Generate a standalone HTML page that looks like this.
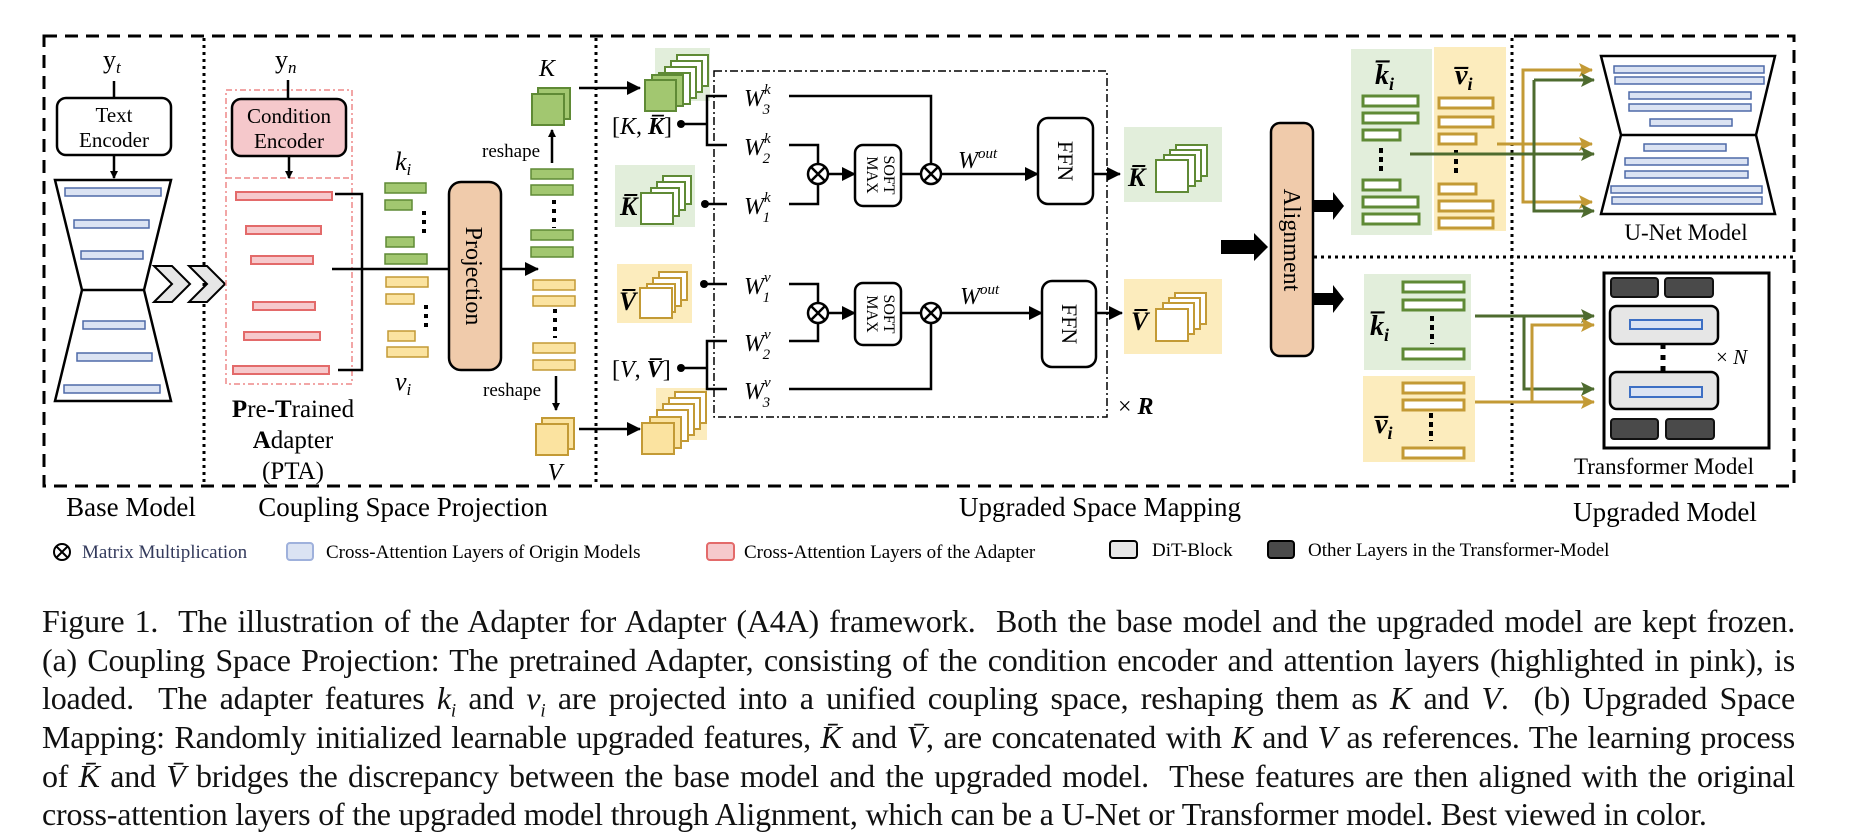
<!DOCTYPE html>
<html><head><meta charset="utf-8"><style>
html,body{margin:0;padding:0;background:#fff;}
body{width:1858px;height:836px;position:relative;overflow:hidden;font-family:"Liberation Serif",serif;}
.cap{position:absolute;left:42px;width:1753px;font-size:32px;letter-spacing:-0.2px;line-height:38px;color:#111;white-space:nowrap;text-align:justify;text-align-last:justify;}
.cap.l{text-align-last:left;}
svg text{font-family:"Liberation Serif",serif;fill:#000;}
</style></head><body>
<svg width="1858" height="836" style="position:absolute;left:0;top:0">
<defs>
<marker id="ab" markerWidth="8" markerHeight="8" refX="7" refY="4" orient="auto" markerUnits="userSpaceOnUse"><path d="M0,0 L8,4 L0,8z" fill="#000"/></marker>
<marker id="ab2" markerWidth="14" markerHeight="14" refX="13" refY="7" orient="auto" markerUnits="userSpaceOnUse"><path d="M0,0 L14,7 L0,14z" fill="#000"/></marker>
<marker id="ag" markerWidth="14" markerHeight="14" refX="13" refY="7" orient="auto" markerUnits="userSpaceOnUse"><path d="M0,0 L14,7 L0,14 L3,7z" fill="#c39a35"/></marker>
<marker id="agr" markerWidth="14" markerHeight="14" refX="13" refY="7" orient="auto" markerUnits="userSpaceOnUse"><path d="M0,0 L14,7 L0,14 L3,7z" fill="#4e6b2f"/></marker>
</defs>
<rect x="44" y="36" width="1750" height="450" fill="none" stroke="#000" stroke-width="3" stroke-dasharray="13,8"/>
<line x1="204" y1="38" x2="204" y2="486" stroke="#000" stroke-width="3" stroke-dasharray="3,4"/>
<line x1="596" y1="38" x2="596" y2="486" stroke="#000" stroke-width="3" stroke-dasharray="3,4"/>
<line x1="1512" y1="38" x2="1512" y2="486" stroke="#000" stroke-width="3" stroke-dasharray="3,4"/>
<line x1="1314" y1="257" x2="1794" y2="257" stroke="#000" stroke-width="3" stroke-dasharray="3,4"/>

<text x="103" y="68" font-size="26">y<tspan font-style="italic" font-size="17" dy="5">t</tspan></text>
<line x1="114" y1="81" x2="114" y2="98" stroke="#000" stroke-width="2.5"/>
<rect x="57" y="98" width="114" height="57" rx="9" fill="#fff" stroke="#000" stroke-width="2.5"/>
<text x="114" y="122" font-size="21" text-anchor="middle">Text</text>
<text x="114" y="147" font-size="21" text-anchor="middle">Encoder</text>
<line x1="114" y1="155" x2="114" y2="178" stroke="#000" stroke-width="2.5" marker-end="url(#ab)"/>
<path d="M55,180 L171,180 L144,290 L82,290 Z M82,290 L144,290 L171,401 L55,401 Z" fill="#fff" stroke="#000" stroke-width="2.5"/>
<g fill="#dbe3f3" stroke="#4e6aa8" stroke-width="1.5">
<rect x="65" y="188" width="96" height="8"/><rect x="74" y="220" width="75" height="8"/><rect x="81" y="251" width="62" height="8"/>
<rect x="83" y="321" width="62" height="8"/><rect x="77" y="353" width="75" height="8"/><rect x="64" y="385" width="96" height="8"/>
</g>
<g fill="#e6e6e6" stroke="#000" stroke-width="2">
<path d="M154,266 L172,266 L190,284 L172,302 L154,302 L172,284 Z"/>
<path d="M189,266 L207,266 L225,284 L207,302 L189,302 L207,284 Z"/>
</g>

<text x="275" y="68" font-size="26">y<tspan font-style="italic" font-size="17" dy="5">n</tspan></text>
<rect x="226" y="90" width="126" height="294" fill="none" stroke="#e88" stroke-width="1.5" stroke-dasharray="6,3,2,3"/>
<line x1="226" y1="178" x2="352" y2="178" stroke="#e88" stroke-width="1.5" stroke-dasharray="6,3"/>
<line x1="288" y1="80" x2="288" y2="99" stroke="#000" stroke-width="2.5"/>
<rect x="232" y="99" width="114" height="57" rx="9" fill="#f5c8cb" stroke="#000" stroke-width="2.5"/>
<text x="289" y="123" font-size="21" text-anchor="middle">Condition</text>
<text x="289" y="148" font-size="21" text-anchor="middle">Encoder</text>
<line x1="289" y1="156" x2="289" y2="178" stroke="#000" stroke-width="2.5" marker-end="url(#ab)"/>
<g fill="#f6c9cc" stroke="#e36a6a" stroke-width="2">
<rect x="236" y="192" width="96" height="8"/><rect x="246" y="226" width="75" height="8"/><rect x="251" y="256" width="62" height="8"/>
<rect x="253" y="302" width="62" height="8"/><rect x="244" y="332" width="76" height="8"/><rect x="233" y="366" width="96" height="8"/>
</g>
<path d="M335,194 L362,194 L362,370 L338,370" fill="none" stroke="#000" stroke-width="2.5"/>
<line x1="332" y1="269" x2="449" y2="269" stroke="#000" stroke-width="2.5"/>
<text x="395" y="170" font-size="26" font-style="italic">k<tspan font-size="17" dy="5">i</tspan></text>
<text x="395" y="390" font-size="26" font-style="italic">v<tspan font-size="17" dy="5">i</tspan></text>
<g fill="#a2c770" stroke="#5f8a35" stroke-width="1.5">
<rect x="385" y="183" width="41" height="10"/><rect x="385" y="200" width="27" height="10"/><rect x="386" y="237" width="28" height="10"/><rect x="385" y="254" width="42" height="10"/>
<rect x="531" y="169" width="42" height="10"/><rect x="531" y="185" width="42" height="10"/><rect x="531" y="230" width="42" height="10"/><rect x="531" y="247" width="42" height="10"/>
</g>
<g fill="#fbe3a0" stroke="#c39a35" stroke-width="1.5">
<rect x="386" y="277" width="42" height="10"/><rect x="386" y="294" width="28" height="10"/><rect x="388" y="331" width="27" height="10"/><rect x="387" y="347" width="41" height="10"/>
<rect x="533" y="280" width="42" height="10"/><rect x="533" y="296" width="42" height="10"/><rect x="533" y="343" width="42" height="10"/><rect x="533" y="360" width="42" height="10"/>
</g>
<g stroke="#000" stroke-width="4" stroke-dasharray="4,5">
<line x1="424" y1="211" x2="424" y2="235"/><line x1="426" y1="305" x2="426" y2="330"/>
<line x1="554" y1="200" x2="554" y2="228"/><line x1="555" y1="309" x2="555" y2="338"/>
</g>
<rect x="449" y="182" width="52" height="188" rx="12" fill="#f0cbab" stroke="#000" stroke-width="2.5"/>
<text transform="translate(466,276) rotate(90)" font-size="24" text-anchor="middle">Projection</text>
<line x1="501" y1="269" x2="538" y2="269" stroke="#000" stroke-width="2.5" marker-end="url(#ab2)"/>
<line x1="552" y1="163" x2="552" y2="130" stroke="#000" stroke-width="2.5" marker-end="url(#ab)"/>
<text x="482" y="157" font-size="19">reshape</text>
<line x1="556" y1="376" x2="556" y2="410" stroke="#000" stroke-width="2.5" marker-end="url(#ab)"/>
<text x="483" y="396" font-size="19">reshape</text>
<rect x="538" y="88" width="32" height="31" fill="#a2c770" stroke="#5f8a35" stroke-width="2"/>
<rect x="532" y="94" width="32" height="31" fill="#a2c770" stroke="#5f8a35" stroke-width="2"/>
<text x="547" y="76" font-size="24" font-style="italic" text-anchor="middle">K</text>
<rect x="542" y="418" width="32" height="31" fill="#fbe3a0" stroke="#c39a35" stroke-width="2"/>
<rect x="536" y="424" width="32" height="31" fill="#fbe3a0" stroke="#c39a35" stroke-width="2"/>
<text x="555" y="480" font-size="24" font-style="italic" text-anchor="middle">V</text>
<line x1="579" y1="88" x2="640" y2="88" stroke="#000" stroke-width="2.5" marker-end="url(#ab2)"/>
<line x1="579" y1="429" x2="640" y2="429" stroke="#000" stroke-width="2.5" marker-end="url(#ab2)"/>

<rect x="714" y="71" width="393" height="346" fill="none" stroke="#000" stroke-width="1.5" stroke-dasharray="8,3,2,3"/>
<rect x="655" y="48" width="55" height="53" fill="#e2eedb"/>
<g stroke="#5f8a35" stroke-width="2">
<rect x="677" y="55" width="31" height="31" fill="#fff"/><rect x="671" y="61" width="31" height="31" fill="#fff"/><rect x="665" y="67" width="31" height="31" fill="#fff"/><rect x="659" y="73" width="31" height="31" fill="#fff"/>
<rect x="652" y="75" width="31" height="31" fill="#a2c770"/><rect x="645" y="80" width="31" height="31" fill="#a2c770"/>
</g>
<rect x="656" y="388" width="51" height="52" fill="#fcecbd"/>
<g stroke="#c39a35" stroke-width="2">
<rect x="675" y="392" width="31" height="31" fill="#fff"/><rect x="669" y="398" width="31" height="31" fill="#fff"/><rect x="663" y="404" width="31" height="31" fill="#fff"/><rect x="657" y="410" width="31" height="31" fill="#fff"/>
<rect x="650" y="417" width="31" height="31" fill="#fbe3a0"/><rect x="642" y="423" width="32" height="31" fill="#fbe3a0"/>
</g>
<text x="612" y="134" font-size="24"><tspan>[</tspan><tspan font-style="italic">K</tspan>, <tspan font-style="italic" font-weight="bold">K̅</tspan>]</text>
<circle cx="681" cy="124" r="4"/>
<line x1="681" y1="124" x2="707" y2="124" stroke="#000" stroke-width="2.5"/>
<path d="M727,96 L707,96 L707,145 L727,145" fill="none" stroke="#000" stroke-width="2.5"/>
<text x="612" y="377" font-size="24"><tspan>[</tspan><tspan font-style="italic">V</tspan>, <tspan font-style="italic" font-weight="bold">V̅</tspan>]</text>
<circle cx="681" cy="368" r="4"/>
<line x1="681" y1="368" x2="707" y2="368" stroke="#000" stroke-width="2.5"/>
<path d="M727,341 L707,341 L707,389 L727,389" fill="none" stroke="#000" stroke-width="2.5"/>
<rect x="615" y="165" width="80" height="62" fill="#e2eedb"/>
<text x="620" y="215" font-size="26" font-weight="bold" font-style="italic">K̅</text>
<g stroke="#5f8a35" stroke-width="2" fill="#fff">
<rect x="663" y="176" width="28" height="28" /><rect x="657" y="182" width="28" height="28"/><rect x="651" y="188" width="28" height="28"/><rect x="641" y="193" width="32" height="31"/>
</g>
<rect x="617" y="264" width="75" height="59" fill="#fcecbd"/>
<text x="619" y="310" font-size="26" font-weight="bold" font-style="italic">V̅</text>
<g stroke="#c39a35" stroke-width="2" fill="#fff">
<rect x="659" y="272" width="28" height="28"/><rect x="653" y="278" width="28" height="28"/><rect x="647" y="284" width="28" height="28"/><rect x="640" y="288" width="32" height="30"/>
</g>
<circle cx="705" cy="204" r="4"/><line x1="705" y1="204" x2="727" y2="204" stroke="#000" stroke-width="2.5"/>
<circle cx="704" cy="284" r="4"/><line x1="704" y1="284" x2="727" y2="284" stroke="#000" stroke-width="2.5"/>
<g font-size="24" font-style="italic">
<text x="744" y="106">W<tspan font-size="15" dy="-12">k</tspan><tspan font-size="15" dx="-8" dy="20">3</tspan></text>
<text x="744" y="155">W<tspan font-size="15" dy="-12">k</tspan><tspan font-size="15" dx="-8" dy="20">2</tspan></text>
<text x="744" y="214">W<tspan font-size="15" dy="-12">k</tspan><tspan font-size="15" dx="-8" dy="20">1</tspan></text>
<text x="744" y="294">W<tspan font-size="15" dy="-12">v</tspan><tspan font-size="15" dx="-8" dy="20">1</tspan></text>
<text x="744" y="351">W<tspan font-size="15" dy="-12">v</tspan><tspan font-size="15" dx="-8" dy="20">2</tspan></text>
<text x="744" y="399">W<tspan font-size="15" dy="-12">v</tspan><tspan font-size="15" dx="-8" dy="20">3</tspan></text>
<text x="958" y="168">W<tspan font-size="15" dy="-10">out</tspan></text>
<text x="960" y="304">W<tspan font-size="15" dy="-10">out</tspan></text>
</g>
<g fill="none" stroke="#000" stroke-width="2.5">
<path d="M789,96 L931,96 L931,164"/>
<path d="M789,145 L818,145 L818,164 M789,204 L818,204 L818,184"/>
<path d="M789,284 L818,284 L818,303 M789,341 L818,341 L818,323"/>
<path d="M789,389 L931,389 L931,323"/>
<line x1="901" y1="174" x2="921" y2="174"/><line x1="901" y1="313" x2="921" y2="313"/>
</g>
<line x1="828" y1="174" x2="855" y2="174" stroke="#000" stroke-width="2.5" marker-end="url(#ab2)"/>
<line x1="828" y1="313" x2="855" y2="313" stroke="#000" stroke-width="2.5" marker-end="url(#ab2)"/>
<line x1="941" y1="174" x2="1038" y2="174" stroke="#000" stroke-width="2.5" marker-end="url(#ab2)"/>
<line x1="941" y1="313" x2="1042" y2="313" stroke="#000" stroke-width="2.5" marker-end="url(#ab2)"/>
<line x1="1093" y1="174" x2="1120" y2="174" stroke="#000" stroke-width="2.5" marker-end="url(#ab2)"/>
<line x1="1096" y1="313" x2="1122" y2="313" stroke="#000" stroke-width="2.5" marker-end="url(#ab2)"/>
<g fill="#fff" stroke="#000" stroke-width="2.5">
<circle cx="818" cy="174" r="10"/><circle cx="931" cy="174" r="10"/><circle cx="818" cy="313" r="10"/><circle cx="931" cy="313" r="10"/>
</g>
<g stroke="#000" stroke-width="2.5">
<path d="M811,167 L825,181 M825,167 L811,181 M924,167 L938,181 M938,167 L924,181 M811,306 L825,320 M825,306 L811,320 M924,306 L938,320 M938,306 L924,320"/>
</g>
<rect x="855" y="145" width="46" height="61" rx="8" fill="#fff" stroke="#000" stroke-width="2.5"/>
<rect x="855" y="283" width="46" height="62" rx="8" fill="#fff" stroke="#000" stroke-width="2.5"/>
<text transform="translate(884,175) rotate(90)" font-size="16" text-anchor="middle">SOFT</text>
<text transform="translate(867,175) rotate(90)" font-size="16" text-anchor="middle">MAX</text>
<text transform="translate(884,314) rotate(90)" font-size="16" text-anchor="middle">SOFT</text>
<text transform="translate(867,314) rotate(90)" font-size="16" text-anchor="middle">MAX</text>
<rect x="1038" y="118" width="55" height="86" rx="10" fill="#fff" stroke="#000" stroke-width="2.5"/>
<rect x="1042" y="281" width="54" height="86" rx="10" fill="#fff" stroke="#000" stroke-width="2.5"/>
<text transform="translate(1058,161) rotate(90)" font-size="22" text-anchor="middle">FFN</text>
<text transform="translate(1062,324) rotate(90)" font-size="22" text-anchor="middle">FFN</text>
<text x="1118" y="414" font-size="24">× <tspan font-style="italic" font-weight="bold">R</tspan></text>
<rect x="1124" y="127" width="98" height="75" fill="#e2eedb"/>
<text x="1128" y="186" font-size="26" font-weight="bold" font-style="italic">K̅</text>
<g stroke="#5f8a35" stroke-width="2" fill="#fff">
<rect x="1176" y="145" width="31" height="31"/><rect x="1170" y="150" width="31" height="31"/><rect x="1164" y="155" width="31" height="31"/><rect x="1156" y="160" width="32" height="32"/>
</g>
<rect x="1124" y="279" width="98" height="75" fill="#fcecbd"/>
<text x="1131" y="330" font-size="26" font-weight="bold" font-style="italic">V̅</text>
<g stroke="#c39a35" stroke-width="2" fill="#fff">
<rect x="1175" y="293" width="31" height="31"/><rect x="1169" y="298" width="31" height="31"/><rect x="1163" y="303" width="31" height="31"/><rect x="1156" y="309" width="32" height="32"/>
</g>

<path d="M1221,240 L1254,240 L1254,233 L1268,247 L1254,261 L1254,254 L1221,254 Z" fill="#000"/>
<rect x="1271" y="123" width="42" height="233" rx="9" fill="#f0cbab" stroke="#000" stroke-width="2.5"/>
<text transform="translate(1284,240) rotate(90)" font-size="24" text-anchor="middle">Alignment</text>
<path d="M1314,200 L1333,200 L1333,192 L1344,206 L1333,220 L1333,212 L1314,212 Z" fill="#000"/>
<path d="M1314,293 L1333,293 L1333,285 L1344,299 L1333,313 L1333,305 L1314,305 Z" fill="#000"/>
<rect x="1351" y="49" width="81" height="186" fill="#e2eedb"/>
<rect x="1434" y="47" width="72" height="184" fill="#fcecbd"/>
<text x="1375" y="84" font-size="28" font-weight="bold" font-style="italic">k̅<tspan font-size="18" dy="6">i</tspan></text>
<text x="1455" y="84" font-size="28" font-weight="bold" font-style="italic">v̅<tspan font-size="18" dy="6">i</tspan></text>
<rect x="1364" y="274" width="107" height="96" fill="#e2eedb"/>
<rect x="1363" y="376" width="112" height="86" fill="#fcecbd"/>
<g fill="#fff" stroke="#5f8a35" stroke-width="3">
<rect x="1363" y="96" width="55" height="10"/><rect x="1363" y="113" width="55" height="10"/><rect x="1363" y="130" width="37" height="10"/>
<rect x="1363" y="180" width="37" height="10"/><rect x="1363" y="197" width="55" height="10"/><rect x="1363" y="214" width="56" height="10"/>
<rect x="1403" y="282" width="61" height="10"/><rect x="1403" y="300" width="61" height="10"/><rect x="1403" y="349" width="61" height="10"/>
</g>
<g fill="#fff" stroke="#c39a35" stroke-width="3">
<rect x="1439" y="98" width="54" height="10"/><rect x="1439" y="117" width="54" height="10"/><rect x="1439" y="134" width="37" height="10"/>
<rect x="1439" y="184" width="37" height="10"/><rect x="1439" y="201" width="54" height="10"/><rect x="1439" y="218" width="54" height="10"/>
<rect x="1403" y="383" width="61" height="10"/><rect x="1403" y="400" width="61" height="10"/><rect x="1403" y="448" width="61" height="10"/>
</g>
<g stroke="#000" stroke-width="4" stroke-dasharray="5,4">
<line x1="1381" y1="148" x2="1381" y2="174"/><line x1="1456" y1="150" x2="1456" y2="177"/>
<line x1="1432" y1="316" x2="1432" y2="344"/><line x1="1431" y1="413" x2="1431" y2="441"/>
</g>
<text x="1370" y="335" font-size="28" font-weight="bold" font-style="italic">k̅<tspan font-size="18" dy="6">i</tspan></text>
<text x="1375" y="433" font-size="28" font-weight="bold" font-style="italic">v̅<tspan font-size="18" dy="6">i</tspan></text>
<g fill="none" stroke-width="3">
<path d="M1497,144 L1592,144" stroke="#c39a35" marker-end="url(#ag)"/>
<path d="M1592,70 L1523,70 L1523,202 L1592,202" stroke="#c39a35" marker-end="url(#ag)"/>
<path d="M1523,70 L1592,70" stroke="#c39a35" marker-end="url(#ag)"/>
<path d="M1410,154 L1594,154" stroke="#4e6b2f" marker-end="url(#agr)"/>
<path d="M1534,80 L1534,211 L1594,211" stroke="#4e6b2f" marker-end="url(#agr)"/>
<path d="M1534,80 L1594,80" stroke="#4e6b2f" marker-end="url(#agr)"/>
<path d="M1475,316 L1594,316" stroke="#4e6b2f" marker-end="url(#agr)"/>
<path d="M1524,316 L1524,389 L1594,389" stroke="#4e6b2f" marker-end="url(#agr)"/>
<path d="M1475,402 L1594,402" stroke="#c39a35" marker-end="url(#ag)"/>
<path d="M1532,402 L1532,325 L1594,325" stroke="#c39a35" marker-end="url(#ag)"/>
</g>
<path d="M1601,56 L1775,56 L1756,135 L1621,135 Z M1621,135 L1756,135 L1775,214 L1601,214 Z" fill="#fff" stroke="#000" stroke-width="2.5"/>
<g fill="#dbe3f3" stroke="#4e6aa8" stroke-width="1.5">
<rect x="1614" y="66" width="150" height="7"/><rect x="1615" y="77" width="149" height="7"/><rect x="1629" y="92" width="122" height="7"/><rect x="1629" y="104" width="122" height="7"/><rect x="1650" y="119" width="82" height="7"/>
<rect x="1644" y="144" width="82" height="7"/><rect x="1625" y="158" width="123" height="7"/><rect x="1625" y="171" width="123" height="7"/><rect x="1611" y="186" width="151" height="7"/><rect x="1612" y="197" width="150" height="7"/>
</g>
<text x="1686" y="240" font-size="23" text-anchor="middle">U-Net Model</text>
<rect x="1604" y="273" width="165" height="175" fill="#fff" stroke="#000" stroke-width="3"/>
<g fill="#4a4a4a" stroke="#111" stroke-width="2">
<rect x="1611" y="278" width="47" height="19" rx="3"/><rect x="1665" y="278" width="48" height="19" rx="3"/>
<rect x="1611" y="419" width="47" height="20" rx="3"/><rect x="1666" y="419" width="48" height="20" rx="3"/>
</g>
<rect x="1610" y="306" width="108" height="38" rx="7" fill="#e6e6e6" stroke="#000" stroke-width="2.5"/>
<rect x="1610" y="372" width="108" height="37" rx="7" fill="#e6e6e6" stroke="#000" stroke-width="2.5"/>
<rect x="1630" y="320" width="72" height="9" fill="#dbe3f3" stroke="#3d6fc4" stroke-width="2"/>
<rect x="1630" y="387" width="72" height="10" fill="#dbe3f3" stroke="#3d6fc4" stroke-width="2"/>
<line x1="1663" y1="344" x2="1663" y2="372" stroke="#000" stroke-width="5" stroke-dasharray="5,6"/>
<text x="1716" y="364" font-size="21">× <tspan font-style="italic">N</tspan></text>
<text x="1664" y="474" font-size="23" text-anchor="middle">Transformer Model</text>

<g font-size="27" text-anchor="middle">
<text x="131" y="516">Base Model</text>
<text x="403" y="516">Coupling Space Projection</text>
<text x="1100" y="516">Upgraded Space Mapping</text>
<text x="1665" y="521">Upgraded Model</text>
</g>
<g font-size="25" text-anchor="middle">
<text x="293" y="417"><tspan font-weight="bold">P</tspan>re-<tspan font-weight="bold">T</tspan>rained</text>
<text x="293" y="448"><tspan font-weight="bold">A</tspan>dapter</text>
<text x="293" y="479">(PTA)</text>
</g>
<g font-size="19">
<circle cx="62" cy="552" r="8" fill="none" stroke="#000" stroke-width="2"/>
<path d="M56,546 L68,558 M68,546 L56,558" stroke="#000" stroke-width="2"/>
<text x="82" y="558" style="fill:#333a5c">Matrix Multiplication</text>
<rect x="287" y="543" width="26" height="17" rx="3" fill="#dbe3f3" stroke="#9fb1dc" stroke-width="2"/>
<text x="326" y="558">Cross-Attention Layers of Origin Models</text>
<rect x="707" y="543" width="27" height="17" rx="3" fill="#f6c9cc" stroke="#e36a6a" stroke-width="2"/>
<text x="744" y="558">Cross-Attention Layers of the Adapter</text>
<rect x="1110" y="541" width="27" height="17" rx="3" fill="#e6e6e6" stroke="#000" stroke-width="2"/>
<text x="1152" y="556">DiT-Block</text>
<rect x="1268" y="541" width="26" height="17" rx="3" fill="#4a4a4a" stroke="#000" stroke-width="2"/>
<text x="1308" y="556">Other Layers in the Transformer-Model</text>
</g>
</svg>
<div class="cap" style="top:602px">Figure 1.&nbsp; The illustration of the Adapter for Adapter (A4A) framework.&nbsp; Both the base model and the upgraded model are kept frozen.</div>
<div class="cap" style="top:641px">(a) Coupling Space Projection: The pretrained Adapter, consisting of the condition encoder and attention layers (highlighted in pink), is</div>
<div class="cap" style="top:679px">loaded.&nbsp; The adapter features <i>k<sub style="font-size:19px">i</sub></i> and <i>v<sub style="font-size:19px">i</sub></i> are projected into a unified coupling space, reshaping them as <i>K</i> and <i>V</i>.&nbsp; (b) Upgraded Space</div>
<div class="cap" style="top:718px">Mapping: Randomly initialized learnable upgraded features, <i>K̄</i> and <i>V̄</i>, are concatenated with <i>K</i> and <i>V</i> as references. The learning process</div>
<div class="cap" style="top:757px">of <i>K̄</i> and <i>V̄</i> bridges the discrepancy between the base model and the upgraded model.&nbsp; These features are then aligned with the original</div>
<div class="cap l" style="top:795px">cross-attention layers of the upgraded model through Alignment, which can be a U-Net or Transformer model. Best viewed in color.</div>
</body></html>
